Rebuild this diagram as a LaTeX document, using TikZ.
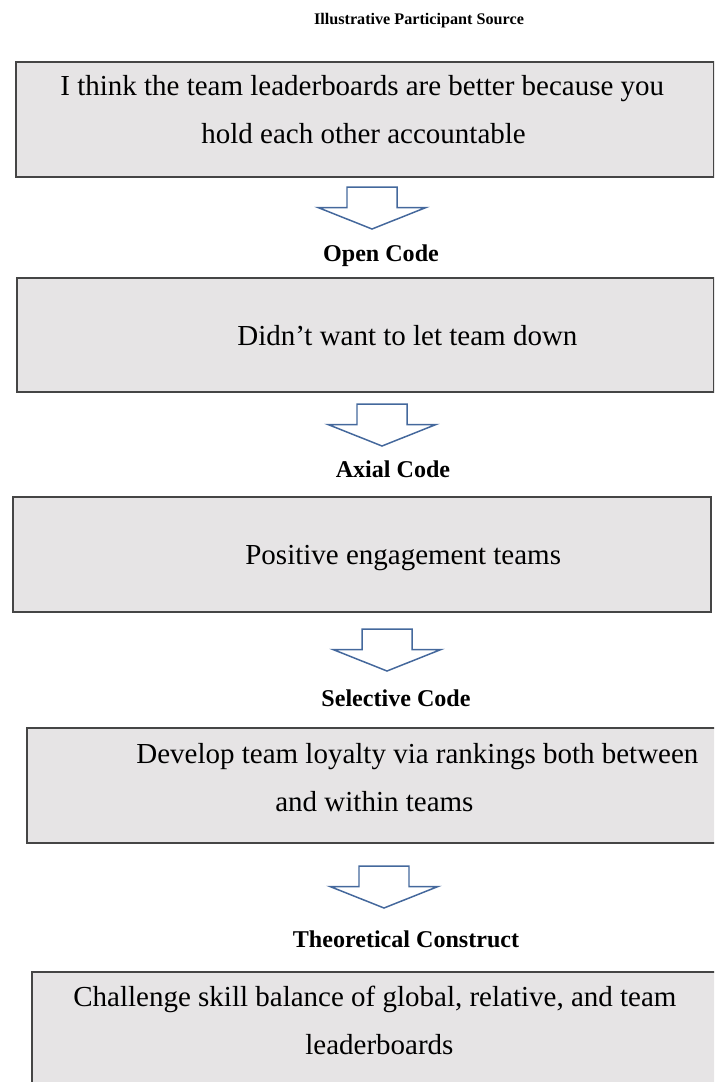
\documentclass[tikz,border=0pt]{standalone}
\usepackage{fontspec}
\setmainfont{Liberation Serif}
\usepackage{xcolor}
\usepackage{tikz}
\definecolor{BoxGrey} {HTML}{E6E4E5}
\definecolor{BoxEdge} {HTML}{454545}
\definecolor{ArrowBlue}{HTML}{44689C}

\tikzset{
  codebox/.style={draw=BoxEdge, fill=BoxGrey, line width=0.9pt, anchor=north west, inner sep=0pt},
  codetext/.style={anchor=base west, inner sep=0pt, font=\fontsize{16.5}{20}\selectfont},
  stagelabel/.style={anchor=base, inner sep=0pt, font=\fontsize{13.7}{16}\selectfont\bfseries},
  pics/blockarrow/.style={code={
    \draw[ArrowBlue, line width=0.85pt, line join=miter]
      (-0.5,0) -- (0.5,0) -- (0.5,-0.41) -- (1.08,-0.41) -- (0,-0.84) -- (-1.08,-0.41) -- (-0.5,-0.41) -- cycle;
  }}
}

\begin{document}
\begin{tikzpicture}
  \clip (0,0) rectangle (14.28,-21.64);
  % Title
  \node[stagelabel, font=\fontsize{9.2}{11}\selectfont\bfseries] (title) at (8.38,-0.48) {Illustrative Participant Source};
  % Boxes: grey fill, dark edge; text lines set by hand, Word-style spacing (0.96 cm)
  \node[codebox, minimum width=13.96cm, minimum height=2.30cm] (source) at (0.30,-1.22) {};
  \node[codetext] (source1) at (1.20,-1.90) {I think the team leaderboards are better because you};
  \node[codetext] (source2) at (4.02,-2.86) {hold each other accountable};
  \pic at (7.44,-3.74) {blockarrow};
  \node[stagelabel] (openlbl) at (7.62,-5.22) {Open Code};

  \node[codebox, minimum width=13.94cm, minimum height=2.28cm] (open) at (0.32,-5.54) {};
  \node[codetext] (open1) at (4.74,-6.90) {Didn’t want to let team down};
  \pic at (7.64,-8.08) {blockarrow};
  \node[stagelabel] (axiallbl) at (7.86,-9.54) {Axial Code};

  \node[codebox, minimum width=13.96cm, minimum height=2.30cm] (axial) at (0.24,-9.92) {};
  \node[codetext] (axial1) at (4.90,-11.28) {Positive engagement teams};
  \pic at (7.74,-12.58) {blockarrow};
  \node[stagelabel] (selectlbl) at (7.92,-14.12) {Selective Code};

  \node[codebox, minimum width=13.90cm, minimum height=2.30cm] (select) at (0.52,-14.54) {};
  \node[codetext] (select1) at (2.72,-15.26) {Develop team loyalty via rankings both between};
  \node[codetext] (select2) at (5.50,-16.22) {and within teams};
  \pic at (7.68,-17.32) {blockarrow};
  \node[stagelabel] (theorylbl) at (8.12,-18.94) {Theoretical Construct};

  % last box runs past the page edge
  \node[codebox, minimum width=14.00cm, minimum height=2.60cm] (theory) at (0.62,-19.42) {};
  \node[codetext] (theory1) at (1.46,-20.12) {Challenge skill balance of global, relative, and team};
  \node[codetext] (theory2) at (6.10,-21.08) {leaderboards};
\end{tikzpicture}
\end{document}
